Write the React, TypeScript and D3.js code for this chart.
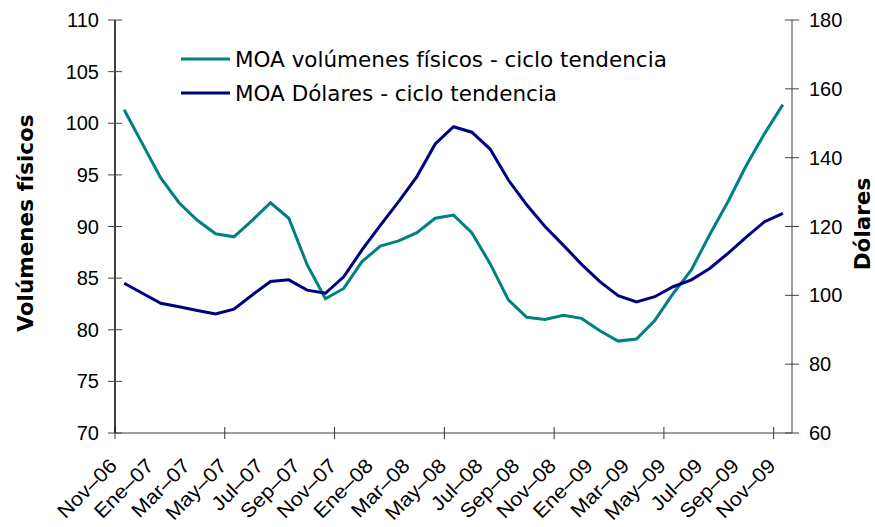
import React, { useEffect, useRef } from 'react'
import * as d3 from 'd3'

// monthly categories, Nov-06 .. Nov-09
const months = [
  'Nov–06', 'Dic–06', 'Ene–07', 'Feb–07', 'Mar–07', 'Abr–07', 'May–07', 'Jun–07', 'Jul–07', 'Ago–07',
  'Sep–07', 'Oct–07', 'Nov–07', 'Dic–07', 'Ene–08', 'Feb–08', 'Mar–08', 'Abr–08', 'May–08', 'Jun–08',
  'Jul–08', 'Ago–08', 'Sep–08', 'Oct–08', 'Nov–08', 'Dic–08', 'Ene–09', 'Feb–09', 'Mar–09', 'Abr–09',
  'May–09', 'Jun–09', 'Jul–09', 'Ago–09', 'Sep–09', 'Oct–09', 'Nov–09',
]

// MOA volúmenes físicos - ciclo tendencia (left axis)
const volumenes = [
  101.3, 98.0, 94.7, 92.3, 90.6, 89.3, 89.0, 90.6, 92.3, 90.8,
  86.3, 83.0, 84.0, 86.6, 88.1, 88.6, 89.4, 90.8, 91.1, 89.4,
  86.4, 82.9, 81.2, 81.0, 81.4, 81.1, 79.9, 78.9, 79.1, 80.9,
  83.5, 85.8, 89.2, 92.4, 95.9, 99.0, 101.8,
]

// MOA Dólares - ciclo tendencia (right axis)
const dolares = [
  103.5, 100.6, 97.7, 96.7, 95.6, 94.6, 96.0, 100.1, 104.0, 104.5,
  101.5, 100.6, 105.4, 113.2, 120.3, 127.2, 134.5, 144.0, 149.0, 147.4,
  142.5, 133.5, 126.3, 120.0, 114.6, 109.0, 104.0, 99.9, 98.1, 99.6,
  102.5, 104.5, 107.8, 112.2, 116.9, 121.4, 123.8,
]

const leftTicks = [70, 75, 80, 85, 90, 95, 100, 105, 110]
const rightTicks = [60, 80, 100, 120, 140, 160, 180]

const seriesNames = ['MOA volúmenes físicos - ciclo tendencia', 'MOA Dólares - ciclo tendencia']
const colors = ['#008080', '#000080']

export default function App() {
  const ref = useRef<SVGSVGElement>(null)

  useEffect(() => {
    const svg = d3.select(ref.current)
    svg.selectAll('*').remove()

    const left = 115, right = 792, top = 20, bottom = 433
    const tickFont = '"Liberation Sans", Arial, sans-serif'
    const textFont = '"DejaVu Sans", Verdana, sans-serif'

    const x = d3.scaleBand().domain(months).range([left, right])
    const yL = d3.scaleLinear().domain([70, 110]).range([bottom, top])
    const yR = d3.scaleLinear().domain([60, 180]).range([bottom, top])
    const cx = (m: string) => (x(m) as number) + x.bandwidth() / 2

    // x axis: tick marks every 6 categories at boundaries, labels every 2
    svg.append('line')
      .attr('x1', left).attr('x2', right).attr('y1', bottom).attr('y2', bottom)
      .attr('stroke', '#808080').attr('stroke-width', 1.5)
    months.forEach((m, i) => {
      if (i % 6 === 0) {
        svg.append('line')
          .attr('x1', x(m) as number).attr('x2', x(m) as number)
          .attr('y1', bottom - 6).attr('y2', bottom + 6)
          .attr('stroke', '#333').attr('stroke-width', 1)
      }
      if (i % 2 === 0) {
        svg.append('text')
          .attr('transform', `translate(${cx(m) - 6},${bottom + 34}) rotate(-45) scale(1.08,1)`)
          .attr('text-anchor', 'end')
          .attr('font-family', tickFont)
          .attr('font-size', 20)
          .text(m)
      }
    })

    // left axis
    svg.append('line')
      .attr('x1', left).attr('x2', left).attr('y1', top).attr('y2', bottom)
      .attr('stroke', '#000').attr('stroke-width', 1.5)
    leftTicks.forEach((t) => {
      svg.append('line')
        .attr('x1', left - 7).attr('x2', left + 7).attr('y1', yL(t)).attr('y2', yL(t))
        .attr('stroke', '#444').attr('stroke-width', 1)
      svg.append('text')
        .attr('x', left - 16).attr('y', yL(t))
        .attr('text-anchor', 'end').attr('dominant-baseline', 'central')
        .attr('font-family', tickFont).attr('font-size', 20)
        .text(t)
    })

    // right axis
    svg.append('line')
      .attr('x1', right).attr('x2', right).attr('y1', top).attr('y2', bottom)
      .attr('stroke', '#808080').attr('stroke-width', 1.5)
    rightTicks.forEach((t) => {
      svg.append('line')
        .attr('x1', right - 7).attr('x2', right + 7).attr('y1', yR(t)).attr('y2', yR(t))
        .attr('stroke', '#444').attr('stroke-width', 1)
      svg.append('text')
        .attr('x', right + 17).attr('y', yR(t))
        .attr('text-anchor', 'start').attr('dominant-baseline', 'central')
        .attr('font-family', tickFont).attr('font-size', 20)
        .text(t)
    })

    // axis titles
    svg.append('text')
      .attr('transform', `translate(33,223) rotate(-90)`)
      .attr('text-anchor', 'middle')
      .attr('font-family', textFont).attr('font-weight', 'bold').attr('font-size', 21.5)
      .text('Volúmenes físicos')
    svg.append('text')
      .attr('transform', `translate(870,224) rotate(-90)`)
      .attr('text-anchor', 'middle')
      .attr('font-family', textFont).attr('font-weight', 'bold').attr('font-size', 21.5)
      .text('Dólares')

    // lines
    const lineL = d3.line<number>().x((d, i) => cx(months[i])).y((d) => yL(d))
    const lineR = d3.line<number>().x((d, i) => cx(months[i])).y((d) => yR(d))
    svg.append('path').attr('d', lineL(volumenes))
      .attr('fill', 'none').attr('stroke', colors[0]).attr('stroke-width', 3)
    svg.append('path').attr('d', lineR(dolares))
      .attr('fill', 'none').attr('stroke', colors[1]).attr('stroke-width', 3)

    // legend
    seriesNames.forEach((name, i) => {
      const ly = 59 + i * 34
      svg.append('line')
        .attr('x1', 181).attr('x2', 230).attr('y1', ly).attr('y2', ly)
        .attr('stroke', colors[i]).attr('stroke-width', 3)
      svg.append('text')
        .attr('x', 235).attr('y', ly)
        .attr('dominant-baseline', 'central')
        .attr('font-family', textFont).attr('font-size', 21.5)
        .text(name)
    })
  }, [])

  return (
    <svg ref={ref} width={875} height={527}
      style={{ position: 'absolute', left: 0, top: 0, background: '#fff' }} />
  )
}
